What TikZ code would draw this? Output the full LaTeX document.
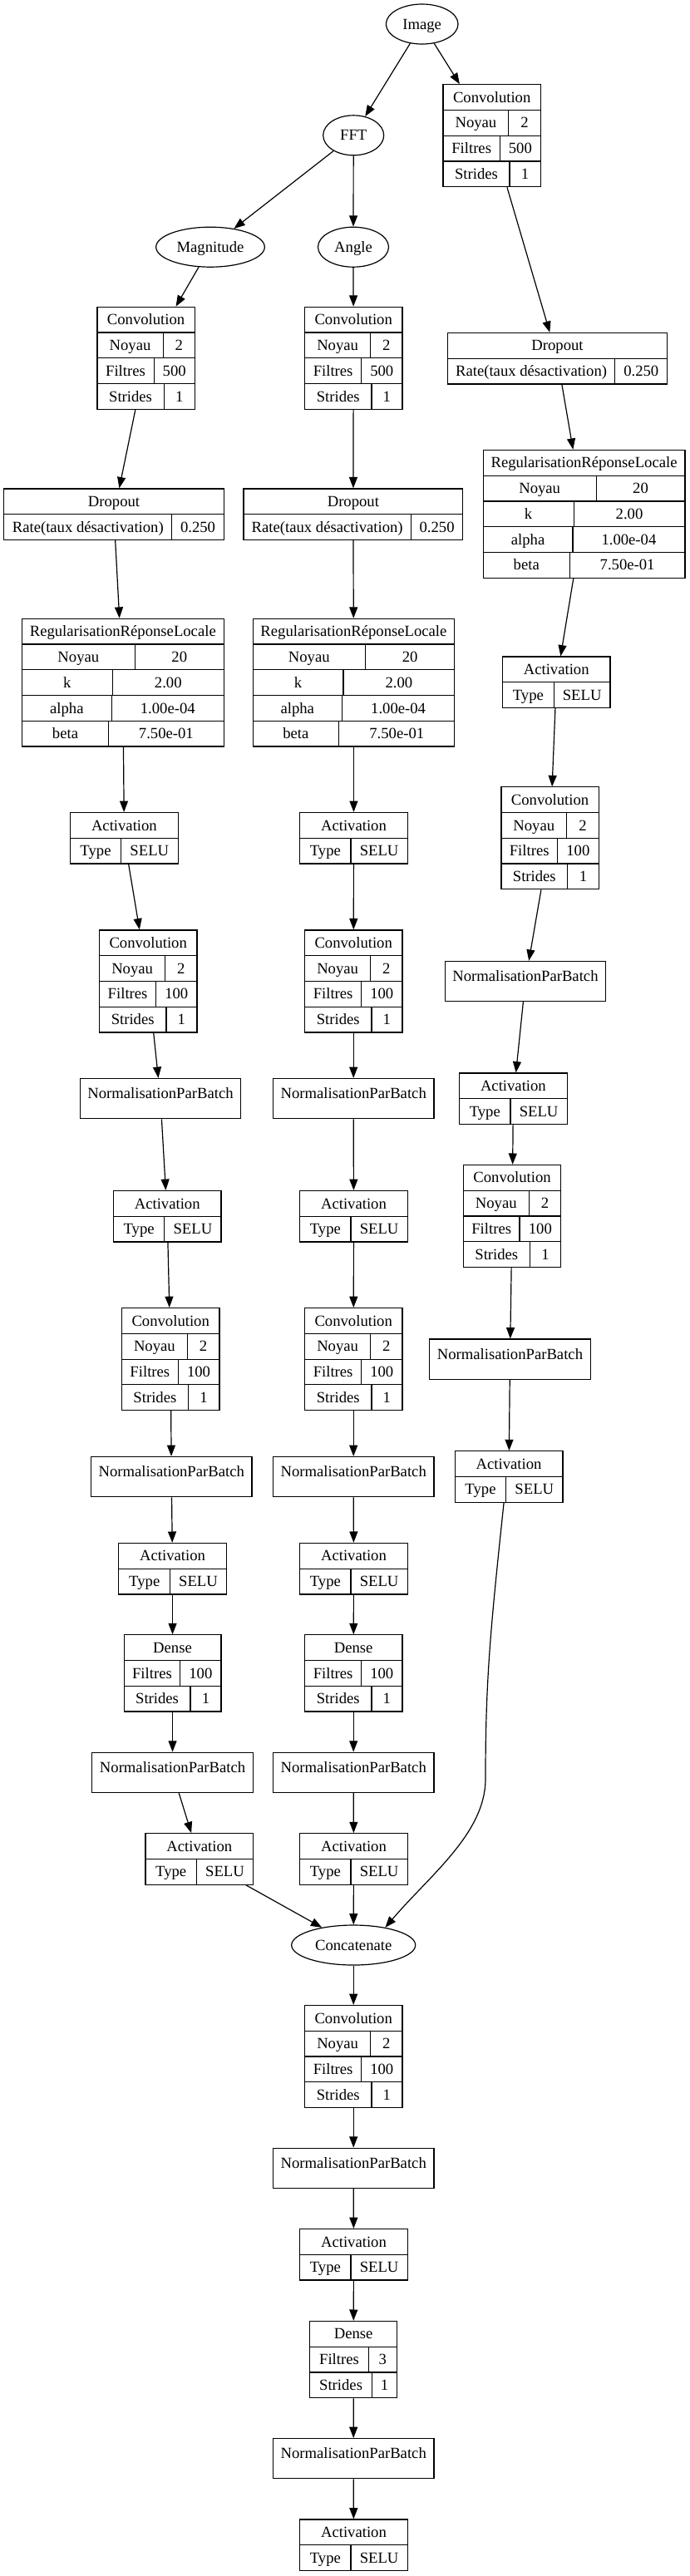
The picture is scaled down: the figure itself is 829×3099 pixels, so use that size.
\documentclass[tikz,border=0pt]{standalone}
\usepackage{fontspec}
\setmainfont{Liberation Serif}
\usetikzlibrary{arrows.meta,fit,shapes.geometric}
\tikzset{
 ln/.style={line width=0.9pt},
 box/.style={draw, line width=0.9pt, inner sep=0pt, rectangle},
 txt/.style={inner sep=0pt, font=\fontsize{14}{16}\selectfont, text height=12pt, text depth=2.8pt},
 ell/.style={draw, line width=0.9pt, ellipse, inner sep=0pt, font=\fontsize{14}{16}\selectfont, text height=12pt, text depth=2.8pt},
 arr/.style={line width=0.9pt, -{Triangle[length=10pt,width=7.5pt]}},
}
\newcommand\rowhh{30.75}
\newcommand\recnode[6]{%
  \def\recXa{#2}\def\recXb{#3}\def\recYt{#4}\def\recName{#1}%
  \pgfmathsetmacro\recYb{#4+#5*\rowhh}%
  \node[box, fit={(#2,#4)(#3,\recYb)}] (#1) {};
  \node[txt] (#1-h) at ({(#2+#3)/2},{#4+\rowhh/2}) {#6};
}
\newcommand\kvrow[4]{%
  \pgfmathsetmacro\recRr{\recYt+#1*\rowhh}%
  \pgfmathsetmacro\recRs{\recRr+\rowhh}%
  \draw[ln] (\recXa,\recRr) -- (\recXb,\recRr);
  \draw[ln] (#2,\recRr) -- (#2,\recRs);
  \node[txt] (\recName-k#1) at ({(\recXa+#2)/2},{\recRr+\rowhh/2}) {#3};
  \node[txt] (\recName-v#1) at ({(#2+\recXb)/2},{\recRr+\rowhh/2}) {#4};
}
\newcommand\npbnode[4]{%
  \pgfmathsetmacro\recYb{#4+48.2}%
  \node[box, txt, fit={(#2,#4)(#3,\recYb)}] (#1) {NormalisationParBatch};
}
\newcommand\convnode[7]{% name x1 x2 ytop d1 d2 d3 ; filters via \convfil
  \recnode{#1}{#2}{#3}{#4}{4}{Convolution}
  \kvrow{1}{#5}{Noyau}{2}
  \kvrow{2}{#6}{Filtres}{\convfil}
  \kvrow{3}{#7}{Strides}{1}
}
\newcommand\actnode[5]{% name x1 x2 ytop divider
  \recnode{#1}{#2}{#3}{#4}{2}{Activation}
  \kvrow{1}{#5}{Type}{SELU}
}
\newcommand\lrnnode[8]{% name x1 x2 ytop d1 d2 d3 d4
  \recnode{#1}{#2}{#3}{#4}{5}{RegularisationRéponseLocale}
  \kvrow{1}{#5}{Noyau}{20}
  \kvrow{2}{#6}{k}{2.00}
  \kvrow{3}{#7}{alpha}{1.00e-04}
  \kvrow{4}{#8}{beta}{7.50e-01}
}
\newcommand\dropnode[5]{%
  \recnode{#1}{#2}{#3}{#4}{2}{Dropout}
  \kvrow{1}{#5}{Rate(taux désactivation)}{0.250}
}
\begin{document}
\begin{tikzpicture}[x=0.75pt,y=-0.75pt]
\useasboundingbox (0,0) rectangle (829,3099);

% ellipses
\node[ell, minimum width=65pt, minimum height=36pt] (image) at (507.7,29) {Image};
\node[ell, minimum width=54.75pt, minimum height=36pt] (fft) at (425.2,162.8) {FFT};
\node[ell, minimum width=98pt, minimum height=36pt] (mag) at (253,297.2) {Magnitude};
\node[ell, minimum width=63.75pt, minimum height=36pt] (ang) at (425,297.2) {Angle};
\node[ell, minimum width=111.75pt, minimum height=36pt] (concat) at (425.2,2340) {Concatenate};

% right column
\def\convfil{500}
\convnode{rconv1}{533}{650.4}{101.7}{611.8}{601.3}{612.9}
\dropnode{rdrop}{538.3}{802.7}{400.4}{739.8}
\lrnnode{rlrn}{581.2}{823.9}{541.4}{717.1}{690.1}{689}{685.3}
\actnode{ract1}{604.4}{734}{790}{666.3}
\def\convfil{100}
\convnode{rconv2}{602.9}{720.3}{946.8}{681.6}{670.5}{682.7}
\npbnode{rnpb1}{535.2}{728.7}{1156.4}
\actnode{ract2}{552.6}{682.2}{1291}{614}
\convnode{rconv3}{557.4}{674.8}{1401.4}{636.2}{625}{637.2}
\npbnode{rnpb2}{516.7}{710.2}{1611}
\actnode{ract3}{547.3}{676.9}{1745.7}{608.7}

% left column
\def\convfil{500}
\convnode{lconv1}{116.9}{234.3}{369.3}{196.2}{185.1}{197.2}
\dropnode{ldrop}{4.8}{269.2}{587.9}{206.8}
\lrnnode{llrn}{26.4}{269.2}{744.3}{162.3}{135.4}{134.3}{130.6}
\actnode{lact1}{84.6}{214.2}{977.5}{145.4}
\def\convfil{100}
\convnode{lconv2}{119.5}{236.9}{1118.9}{198.8}{187.7}{199.9}
\npbnode{lnpb1}{96.2}{289.8}{1297.5}
\actnode{lact2}{136.4}{266}{1432.5}{197.8}
\convnode{lconv3}{146.5}{263.9}{1573.6}{225.3}{214.2}{226.3}
\npbnode{lnpb2}{109.5}{303}{1752.5}
\actnode{lact3}{142.8}{272.3}{1856.4}{204.7}
\recnode{ldense}{149.1}{266}{1966.8}{3}{Dense}
\kvrow{1}{216.8}{Filtres}{100}
\kvrow{2}{229}{Strides}{1}
\npbnode{lnpb3}{110.5}{304.6}{2108.2}
\actnode{lact4}{175}{304.6}{2205.7}{236.4}

% middle column
\def\convfil{500}
\convnode{mconv1}{366.5}{483.9}{369.3}{445.8}{434.7}{446.9}
\dropnode{mdrop}{293}{556.8}{587.9}{494.4}
\lrnnode{mlrn}{304.1}{546.8}{744.3}{439.4}{413}{411.4}{407.7}
\actnode{mact1}{360.7}{490.2}{977.5}{422}
\def\convfil{100}
\convnode{mconv2}{366.5}{483.9}{1118.9}{445.8}{434.7}{446.9}
\npbnode{mnpb1}{328.4}{522}{1297.5}
\actnode{mact2}{360.7}{490.2}{1432.5}{422}
\convnode{mconv3}{366.5}{483.9}{1573.6}{445.8}{434.7}{446.9}
\npbnode{mnpb2}{328.4}{522}{1752.5}
\actnode{mact3}{360.7}{490.2}{1856.4}{422}
\recnode{mdense}{366.5}{483.9}{1966.8}{3}{Dense}
\kvrow{1}{434.7}{Filtres}{100}
\kvrow{2}{446.9}{Strides}{1}
\npbnode{mnpb3}{328.4}{522}{2108.2}
\actnode{mact4}{360.7}{490.2}{2205.7}{422}

% bottom
\convnode{bconv}{366.5}{483.9}{2412.5}{445.8}{434.7}{446.9}
\npbnode{bnpb1}{328.4}{522}{2584.2}
\actnode{bact1}{360.7}{490.2}{2681.5}{422}
\recnode{bdense}{372.8}{477.5}{2792.4}{3}{Dense}
\kvrow{1}{443.2}{Filtres}{3}
\kvrow{2}{447.4}{Strides}{1}
\npbnode{bnpb2}{328.4}{522}{2933.6}
\actnode{bact2}{360.7}{490.2}{3031}{422}

% edges
\foreach \a/\b in {image/fft, image/rconv1, fft/mag, fft/ang, mag/lconv1, ang/mconv1,
  rconv1/rdrop, lconv1/ldrop, mconv1/mdrop, rdrop/rlrn, ldrop/llrn, mdrop/mlrn,
  rlrn/ract1, llrn/lact1, mlrn/mact1, ract1/rconv2, lact1/lconv2, mact1/mconv2,
  rconv2/rnpb1, lconv2/lnpb1, mconv2/mnpb1, rnpb1/ract2, lnpb1/lact2, mnpb1/mact2,
  ract2/rconv3, lact2/lconv3, mact2/mconv3, rconv3/rnpb2, lconv3/lnpb2, mconv3/mnpb2,
  rnpb2/ract3, lnpb2/lact3, mnpb2/mact3, lact3/ldense, mact3/mdense,
  ldense/lnpb3, mdense/mnpb3, lnpb3/lact4, mnpb3/mact4, lact4/concat, mact4/concat,
  concat/bconv, bconv/bnpb1, bnpb1/bact1, bact1/bdense, bdense/bnpb2, bnpb2/bact2}
  \draw[arr] (\a) -- (\b);
\draw[arr] ([xshift=-4.5pt]ract3.south) .. controls (590,1960) and (584,2020) .. (584,2140)
  .. controls (584,2205) and (518,2255) .. (concat.29);
\end{tikzpicture}
\end{document}
